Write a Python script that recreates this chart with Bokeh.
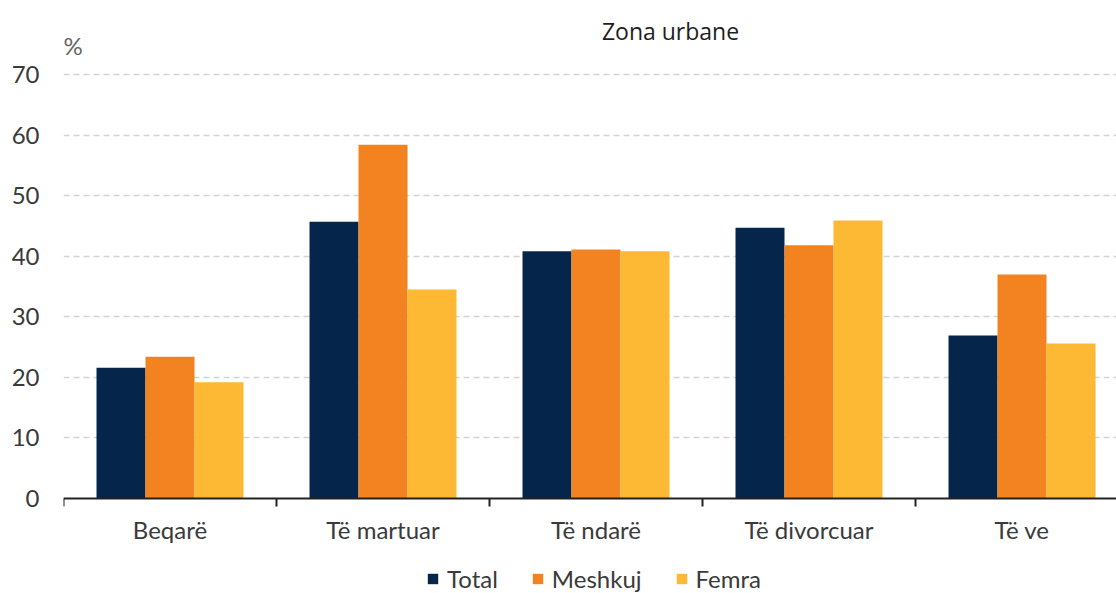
from bokeh.plotting import figure
from bokeh.models import (ColumnDataSource, Range1d, FixedTicker, Legend, LegendItem, Label)
from bokeh.transform import dodge
from bokeh.embed import file_html
from bokeh.resources import INLINE

categories = ["Beqarë", "Të martuar", "Të ndarë", "Të divorcuar", "Të ve"]
total = [21.6, 45.7, 40.8, 44.7, 26.9]
meshkuj = [23.4, 58.4, 41.1, 41.8, 37.0]
femra = [19.2, 34.5, 40.8, 45.9, 25.6]
y_ticks = [0, 10, 20, 30, 40, 50, 60, 70]

series_names = ["Total", "Meshkuj", "Femra"]
colors = ["#05264A", "#F38321", "#FDB933"]

xpos = [i + 0.5 for i in range(len(categories))]
src = ColumnDataSource(dict(x=xpos, cat=categories, Total=total, Meshkuj=meshkuj, Femra=femra))

# frame spans the whole canvas height; x axis sits at y=0 (fixed_location)
px_per_unit = 424 / 70.0
y_top = 70 + 74 / px_per_unit
y_bot = -(593 - 498) / px_per_unit
x_end = 1053 / 213.0
p = figure(width=1116, height=593, output_backend="svg", toolbar_location=None,
           x_range=Range1d(0, x_end), y_range=Range1d(y_bot, y_top),
           min_border_left=63, min_border_right=0, min_border_top=0, min_border_bottom=0)
p.outline_line_color = None
p.background_fill_color = "white"

bw = 0.23
offsets = [-bw, 0.0, bw]
renderers = []
for name, col, off in zip(series_names, colors, offsets):
    r = p.vbar(x=dodge("x", off), top=name, width=bw, source=src,
               fill_color=col, line_color=None)
    renderers.append(r)

# y axis
p.yaxis.ticker = FixedTicker(ticks=y_ticks)
p.yaxis.axis_line_color = None
p.yaxis.major_tick_line_color = None
p.yaxis.minor_tick_line_color = None
p.yaxis.major_label_text_font = "Lato"
p.yaxis.major_label_text_font_size = "24px"
p.yaxis.major_label_text_color = "#3a3a3a"
p.yaxis.major_label_standoff = 18

# x axis
p.xaxis.fixed_location = 0
p.xaxis.bounds = (0, x_end)
p.xaxis.ticker = FixedTicker(ticks=xpos, minor_ticks=[0, 1, 2, 3, 4, 5])
p.xaxis.major_label_overrides = {x: c for x, c in zip(xpos, categories)}
p.xaxis.major_tick_line_color = None
p.xaxis.major_tick_out = 0
p.xaxis.minor_tick_line_color = "#222222"
p.xaxis.minor_tick_line_width = 2
p.xaxis.minor_tick_out = 8
p.xaxis.minor_tick_in = 0
p.xaxis.axis_line_color = "#222222"
p.xaxis.axis_line_width = 2
p.xaxis.major_label_text_font = "Lato"
p.xaxis.major_label_text_font_size = "24px"
p.xaxis.major_label_text_color = "#3a3a3a"
p.xaxis.major_label_standoff = 8

p.xgrid.grid_line_color = None
p.ygrid.ticker = FixedTicker(ticks=y_ticks[1:])
p.ygrid.grid_line_color = "#D3D3D3"
p.ygrid.grid_line_dash = "6 4"
p.ygrid.grid_line_width = 1.5

items = [LegendItem(label=n, renderers=[r]) for n, r in zip(series_names, renderers)]
legend = Legend(items=items, orientation="horizontal", location=(363, 0),
                label_text_font="Lato", label_text_font_size="24px",
                label_text_color="#3a3a3a", glyph_width=13, glyph_height=13,
                label_standoff=8, spacing=33, padding=0, margin=0,
                border_line_color=None, background_fill_alpha=0)
p.add_layout(legend)

p.add_layout(Label(x=(670 - 63) / 213.0, y=(498 - 30) / px_per_unit, text="Zona urbane",
                   text_align="center", text_baseline="middle", text_font="Open Sans",
                   text_font_size="23px", text_color="#1e1e1e"))
p.add_layout(Label(x=0.0, y=(498 - 45) / px_per_unit, text="%", x_offset=0,
                   text_align="left", text_baseline="middle", text_font="Lato",
                   text_font_size="24px", text_color="#666666"))

open("out.html", "w").write(file_html(p, INLINE))
